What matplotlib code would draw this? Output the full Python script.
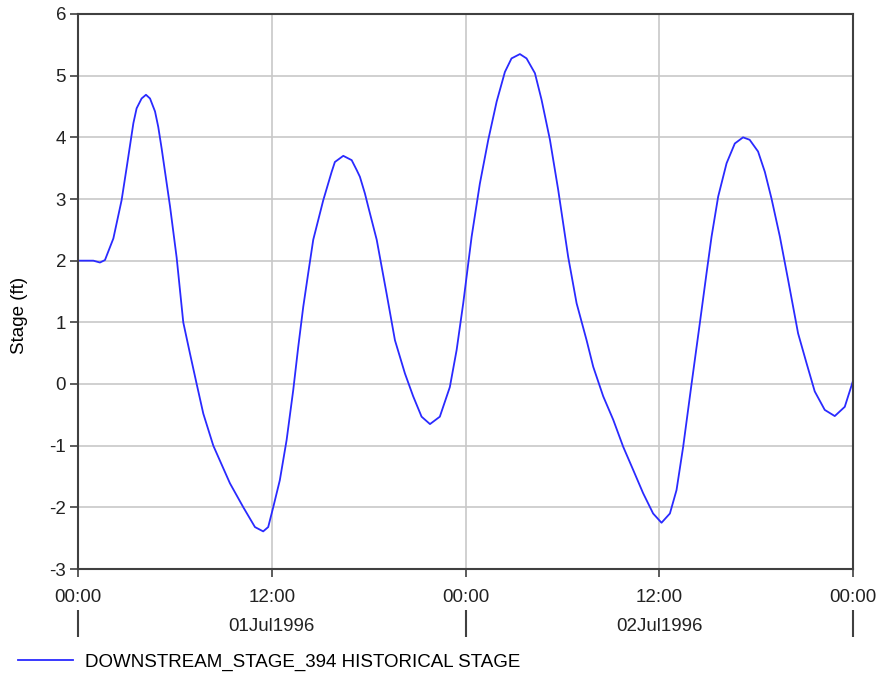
from datetime import datetime, timedelta

import matplotlib
matplotlib.use("Agg")
import matplotlib.dates as mdates
from matplotlib import pyplot as plt

plt.rcParams['font.family'] = ['Liberation Sans', 'DejaVu Sans']
plt.rcParams['axes.unicode_minus'] = False

# hours after 01Jul1996 00:00 and stage (ft)
hours = [0, 0.95, 1.36, 1.67, 2.19, 2.7, 3.02, 3.43, 3.63, 3.94, 4.21, 4.46,
         4.77, 4.97, 5.18, 5.7, 6.11, 6.52, 6.93, 7.35, 7.76, 8.38, 9.41,
         10.24, 10.96, 11.47, 11.78, 12.09, 12.5, 12.92, 13.33, 13.64, 13.95,
         14.26, 14.57, 15.19, 15.71, 15.91, 16.43, 16.95, 17.26, 17.46, 17.77,
         18.0, 18.5, 19.11, 19.63, 20.25, 20.76, 21.28, 21.8, 22.41, 23.03,
         23.45, 23.86, 24.38, 24.89, 25.41, 25.93, 26.44, 26.85, 27.37, 27.78,
         28.3, 28.71, 29.23, 29.74, 30.36, 30.88, 31.5, 31.91, 32.53, 33.15,
         33.77, 34.38, 35.0, 35.62, 36.14, 36.66, 37.07, 37.48, 38.0, 38.51,
         38.93, 39.24, 39.65, 40.17, 40.68, 41.19, 41.6, 42.12, 42.54, 42.95,
         43.47, 43.98, 44.6, 45.12, 45.63, 46.25, 46.87, 47.49, 48.0]
stage = [2.0, 2.0, 1.97, 2.01, 2.36, 2.98, 3.52, 4.23, 4.47, 4.63, 4.69, 4.63,
         4.42, 4.17, 3.82, 2.88, 2.05, 1.0, 0.5, 0.0, -0.48, -1.0, -1.61,
         -2.0, -2.32, -2.39, -2.32, -2.0, -1.56, -0.91, -0.1, 0.6, 1.25,
         1.8, 2.34, 2.98, 3.44, 3.6, 3.7, 3.63, 3.47, 3.36, 3.09,
         2.85, 2.34, 1.47, 0.71, 0.17, -0.2, -0.53, -0.65, -0.53, -0.05,
         0.55, 1.31, 2.39, 3.25, 3.96, 4.58, 5.06, 5.28, 5.35, 5.28,
         5.04, 4.61, 3.96, 3.15, 2.06, 1.31, 0.71, 0.28, -0.2, -0.58,
         -1.02, -1.39, -1.77, -2.1, -2.25, -2.1, -1.72, -1.02, 0.0, 0.98,
         1.8, 2.39, 3.04, 3.58, 3.9, 4.0, 3.96, 3.77, 3.44, 3.01,
         2.39, 1.69, 0.82, 0.34, -0.12, -0.42, -0.52, -0.37, 0.05]

start = datetime(1996, 7, 1)
times = [start + timedelta(hours=h) for h in hours]
day_edges = [start + timedelta(days=d) for d in range(3)]
day_mids = [start + timedelta(hours=12 + 24 * d) for d in range(2)]
day_labels = ['01Jul1996', '02Jul1996']
series_name = 'DOWNSTREAM_STAGE_394 HISTORICAL STAGE'

fs = 13.5
fig = plt.figure(figsize=(8.92, 6.74), dpi=100)
ax = fig.add_axes([78 / 892, 1 - 569 / 674, 775 / 892, 555 / 674])

ax.plot(times, stage, color='#2a2aff', lw=1.3, label=series_name)

ax.set_xlim(day_edges[0], day_edges[-1])
ax.set_ylim(-3, 6)
ax.set_yticks(range(-3, 7))
ax.xaxis.set_major_locator(mdates.HourLocator(byhour=[0, 12]))
ax.xaxis.set_major_formatter(mdates.DateFormatter('%H:%M'))
ax.grid(True, color='#c8c8c8', lw=1.2)
ax.set_axisbelow(True)
for s in ax.spines.values():
    s.set_color('#404040')
    s.set_linewidth(1.5)
ax.tick_params(direction='out', length=6, width=1.2, color='#404040',
               labelsize=fs, labelcolor='#222222')
ax.tick_params(axis='x', pad=8.5)
ax.tick_params(axis='y', pad=2.5)
ax.set_ylabel('Stage (ft)', fontsize=fs)
ax.yaxis.set_label_coords(-0.0645, 0.456)

# second row: day names between day separators
sec = ax.secondary_xaxis(-41 / 555)
sec.spines['bottom'].set_visible(False)
sec.set_xticks(mdates.date2num(day_edges))
sec.set_xticklabels(['', '', ''])
sec.set_xticks(mdates.date2num(day_mids), minor=True)
sec.set_xticklabels(day_labels, minor=True)
sec.tick_params(which='major', length=19.5, width=1.5, color='#404040')
sec.tick_params(which='minor', length=0, pad=6, labelsize=fs,
                labelcolor='#222222')

fig.legend(loc='center left', bbox_to_anchor=(18 / 892, 1 - 662 / 674),
           frameon=False, borderpad=0, borderaxespad=0, fontsize=fs,
           handlelength=2.95, handletextpad=0.64)

fig.savefig('out.png', dpi=100)
